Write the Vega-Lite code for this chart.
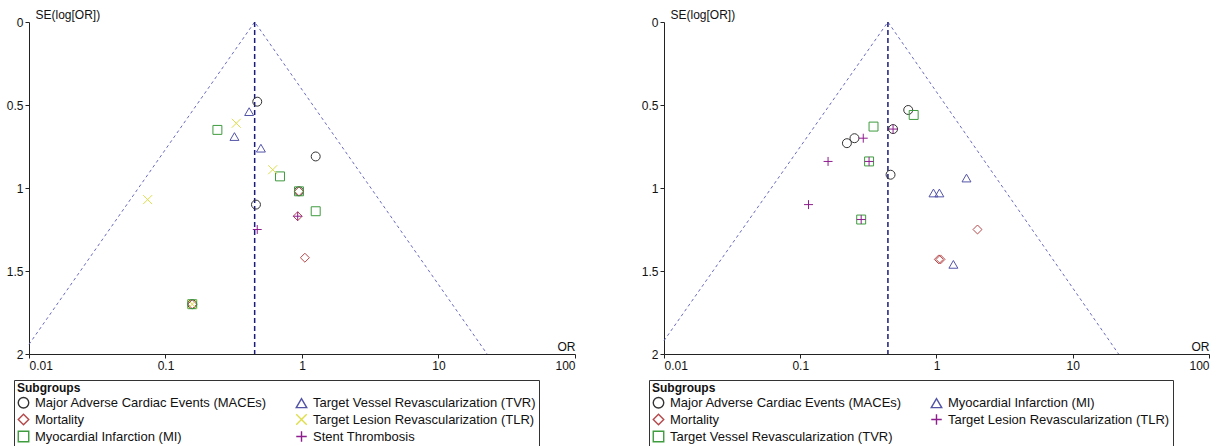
{
  "$schema": "https://vega.github.io/schema/vega-lite/v6.json",
  "background": "white",
  "padding": {"left": 6, "top": 8, "right": 0, "bottom": 0},
  "spacing": 65,
  "config": {
    "view": {"stroke": null},
    "font": "Liberation Sans",
    "axis": {
      "grid": false,
      "domainColor": "#222222",
      "tickColor": "#222222",
      "labelColor": "#111111",
      "labelFont": "Liberation Sans",
      "labelFontSize": 12,
      "titleFont": "Liberation Sans",
      "titleFontSize": 12,
      "titleFontWeight": "normal",
      "titleColor": "#111111",
      "tickSize": 4,
      "labelPadding": 2
    },
    "legend": {
      "labelFont": "Liberation Sans",
      "titleFont": "Liberation Sans",
      "labelFontSize": 13,
      "labelColor": "#111111",
      "titleFontSize": 12,
      "titleFontWeight": "bold",
      "titleColor": "#111111",
      "strokeColor": "#333333",
      "padding": 3,
      "titlePadding": 1,
      "rowPadding": 0,
      "columnPadding": 26,
      "symbolSize": 110,
      "symbolStrokeWidth": 1.4,
      "labelOffset": 5,
      "orient": "none",
      "legendX": -15,
      "legendY": 358,
      "columns": 2,
      "labelLimit": 400
    }
  },
  "hconcat": [
    {
      "width": 546,
      "height": 332,
      "encoding": {
        "x": {"field": "or", "type": "quantitative", "scale": {"type": "log", "domain": [0.01, 100]},
              "axis": {"values": [0.01, 0.1, 1, 10, 100], "format": "~g", "title": "OR", "titleAlign": "right", "titleAnchor": "end", "titleX": 546, "titleY": -4, "titleBaseline": "alphabetic"}},
        "y": {"field": "se", "type": "quantitative", "scale": {"domain": [0, 2], "reverse": true},
              "axis": {"values": [0, 0.5, 1, 1.5, 2], "format": "~g", "title": "SE(log[OR])", "titleAngle": 0, "titleAlign": "left", "titleX": 6, "titleY": -4, "titleBaseline": "alphabetic"}}
      },
      "layer": [
        {
          "data": {"values": [
            {"or": 0.01, "se": 1.942, "k": 1},
            {"or": 0.45, "se": 0, "k": 2},
            {"or": 22.7, "se": 2, "k": 3}
          ]},
          "mark": {"type": "line", "color": "#6a6ac0", "strokeDash": [3, 3], "strokeWidth": 1},
          "encoding": {"order": {"field": "k", "type": "quantitative"}}
        },
        {
          "data": {"values": [{"or": 0.45, "se": 0, "se2": 2}]},
          "mark": {"type": "rule", "color": "#1c1c7a", "strokeDash": [5, 3], "strokeWidth": 1.5},
          "encoding": {"y2": {"field": "se2"}}
        },
        {
          "data": {"values": [
            {"or": 0.47, "se": 0.48, "g": "Major Adverse Cardiac Events (MACEs)"},
            {"or": 0.46, "se": 1.10, "g": "Major Adverse Cardiac Events (MACEs)"},
            {"or": 1.26, "se": 0.81, "g": "Major Adverse Cardiac Events (MACEs)"},
            {"or": 0.95, "se": 1.02, "g": "Major Adverse Cardiac Events (MACEs)"},
            {"or": 0.157, "se": 1.70, "g": "Major Adverse Cardiac Events (MACEs)"},
            {"or": 0.95, "se": 1.02, "g": "Mortality"},
            {"or": 0.93, "se": 1.17, "g": "Mortality"},
            {"or": 1.05, "se": 1.42, "g": "Mortality"},
            {"or": 0.157, "se": 1.70, "g": "Mortality"},
            {"or": 0.24, "se": 0.65, "g": "Myocardial Infarction (MI)"},
            {"or": 0.69, "se": 0.93, "g": "Myocardial Infarction (MI)"},
            {"or": 1.26, "se": 1.14, "g": "Myocardial Infarction (MI)"},
            {"or": 0.95, "se": 1.02, "g": "Myocardial Infarction (MI)"},
            {"or": 0.157, "se": 1.70, "g": "Myocardial Infarction (MI)"},
            {"or": 0.41, "se": 0.54, "g": "Target Vessel Revascularization (TVR)"},
            {"or": 0.32, "se": 0.69, "g": "Target Vessel Revascularization (TVR)"},
            {"or": 0.50, "se": 0.76, "g": "Target Vessel Revascularization (TVR)"},
            {"or": 0.33, "se": 0.61, "g": "Target Lesion Revascularization (TLR)"},
            {"or": 0.61, "se": 0.89, "g": "Target Lesion Revascularization (TLR)"},
            {"or": 0.074, "se": 1.07, "g": "Target Lesion Revascularization (TLR)"},
            {"or": 0.157, "se": 1.70, "g": "Target Lesion Revascularization (TLR)"},
            {"or": 0.93, "se": 1.17, "g": "Stent Thrombosis"},
            {"or": 0.47, "se": 1.25, "g": "Stent Thrombosis"}
          ]},
          "mark": {"type": "point", "filled": false, "strokeWidth": 1, "size": 80, "opacity": 1},
          "encoding": {
            "color": {"field": "g", "type": "nominal", "title": "Subgroups",
              "scale": {"domain": ["Major Adverse Cardiac Events (MACEs)", "Mortality", "Myocardial Infarction (MI)", "Target Vessel Revascularization (TVR)", "Target Lesion Revascularization (TLR)", "Stent Thrombosis"],
                        "range": ["#333333", "#b5474a", "#3e9b3e", "#5353a8", "#dede4a", "#8e1d8e"]}},
            "shape": {"field": "g", "type": "nominal", "title": "Subgroups",
              "scale": {"domain": ["Major Adverse Cardiac Events (MACEs)", "Mortality", "Myocardial Infarction (MI)", "Target Vessel Revascularization (TVR)", "Target Lesion Revascularization (TLR)", "Stent Thrombosis"],
                        "range": ["circle", "diamond", "square", "triangle-up", "M-1,-1L1,1M1,-1L-1,1", "M-1,0L1,0M0,-1L0,1"]}}
          }
        }
      ]
    },
    {
      "width": 545,
      "height": 332,
      "encoding": {
        "x": {"field": "or", "type": "quantitative", "scale": {"type": "log", "domain": [0.01, 100]},
              "axis": {"values": [0.01, 0.1, 1, 10, 100], "format": "~g", "title": "OR", "titleAlign": "right", "titleAnchor": "end", "titleX": 545, "titleY": -4, "titleBaseline": "alphabetic"}},
        "y": {"field": "se", "type": "quantitative", "scale": {"domain": [0, 2], "reverse": true},
              "axis": {"values": [0, 0.5, 1, 1.5, 2], "format": "~g", "title": "SE(log[OR])", "titleAngle": 0, "titleAlign": "left", "titleX": 6, "titleY": -4, "titleBaseline": "alphabetic"}}
      },
      "layer": [
        {
          "data": {"values": [
            {"or": 0.01, "se": 1.92, "k": 1},
            {"or": 0.44, "se": 0, "k": 2},
            {"or": 21.7, "se": 2, "k": 3}
          ]},
          "mark": {"type": "line", "color": "#6a6ac0", "strokeDash": [3, 3], "strokeWidth": 1},
          "encoding": {"order": {"field": "k", "type": "quantitative"}}
        },
        {
          "data": {"values": [{"or": 0.44, "se": 0, "se2": 2}]},
          "mark": {"type": "rule", "color": "#1c1c7a", "strokeDash": [5, 3], "strokeWidth": 1.5},
          "encoding": {"y2": {"field": "se2"}}
        },
        {
          "data": {"values": [
            {"or": 0.62, "se": 0.53, "g": "Major Adverse Cardiac Events (MACEs)"},
            {"or": 0.48, "se": 0.645, "g": "Major Adverse Cardiac Events (MACEs)"},
            {"or": 0.25, "se": 0.70, "g": "Major Adverse Cardiac Events (MACEs)"},
            {"or": 0.22, "se": 0.73, "g": "Major Adverse Cardiac Events (MACEs)"},
            {"or": 0.46, "se": 0.92, "g": "Major Adverse Cardiac Events (MACEs)"},
            {"or": 1.66, "se": 0.94, "g": "Myocardial Infarction (MI)"},
            {"or": 0.95, "se": 1.03, "g": "Myocardial Infarction (MI)"},
            {"or": 1.05, "se": 1.03, "g": "Myocardial Infarction (MI)"},
            {"or": 1.33, "se": 1.46, "g": "Myocardial Infarction (MI)"},
            {"or": 2.0, "se": 1.25, "g": "Mortality"},
            {"or": 1.04, "se": 1.43, "g": "Mortality"},
            {"or": 1.07, "se": 1.43, "g": "Mortality"},
            {"or": 0.68, "se": 0.56, "g": "Target Vessel Revascularization (TVR)"},
            {"or": 0.345, "se": 0.63, "g": "Target Vessel Revascularization (TVR)"},
            {"or": 0.32, "se": 0.84, "g": "Target Vessel Revascularization (TVR)"},
            {"or": 0.28, "se": 1.19, "g": "Target Vessel Revascularization (TVR)"},
            {"or": 0.48, "se": 0.645, "g": "Target Lesion Revascularization (TLR)"},
            {"or": 0.29, "se": 0.70, "g": "Target Lesion Revascularization (TLR)"},
            {"or": 0.16, "se": 0.84, "g": "Target Lesion Revascularization (TLR)"},
            {"or": 0.32, "se": 0.84, "g": "Target Lesion Revascularization (TLR)"},
            {"or": 0.115, "se": 1.10, "g": "Target Lesion Revascularization (TLR)"},
            {"or": 0.28, "se": 1.19, "g": "Target Lesion Revascularization (TLR)"}
          ]},
          "mark": {"type": "point", "filled": false, "strokeWidth": 1, "size": 80, "opacity": 1},
          "encoding": {
            "color": {"field": "g", "type": "nominal", "title": "Subgroups",
              "scale": {"domain": ["Major Adverse Cardiac Events (MACEs)", "Mortality", "Target Vessel Revascularization (TVR)", "Myocardial Infarction (MI)", "Target Lesion Revascularization (TLR)"],
                        "range": ["#333333", "#b5474a", "#3e9b3e", "#5353a8", "#8e1d8e"]}},
            "shape": {"field": "g", "type": "nominal", "title": "Subgroups",
              "scale": {"domain": ["Major Adverse Cardiac Events (MACEs)", "Mortality", "Target Vessel Revascularization (TVR)", "Myocardial Infarction (MI)", "Target Lesion Revascularization (TLR)"],
                        "range": ["circle", "diamond", "square", "triangle-up", "M-1,0L1,0M0,-1L0,1"]}}
          }
        }
      ]
    }
  ],
  "resolve": {"scale": {"color": "independent", "shape": "independent"}, "legend": {"color": "independent", "shape": "independent"}}
}
